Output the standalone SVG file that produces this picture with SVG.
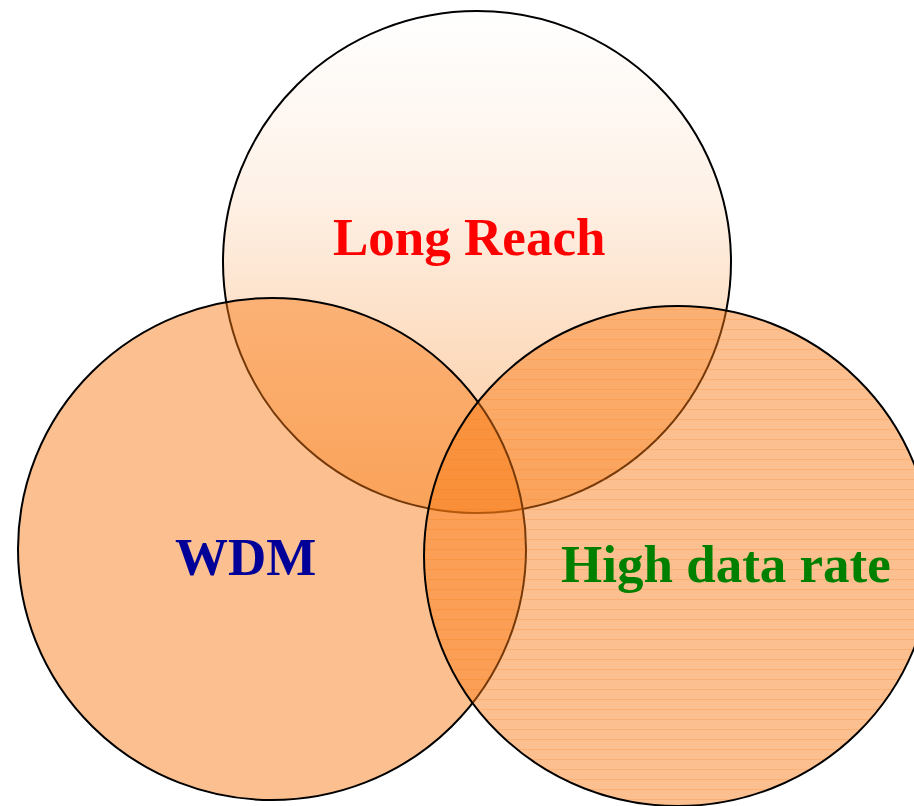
<svg xmlns="http://www.w3.org/2000/svg" width="914" height="806" viewBox="0 0 914 806">
  <style>
    .ring { stroke: #000000; stroke-width: 2; }
    .orange { fill: #F97A14; fill-opacity: 0.47; }
    .lbl { font-family: "Liberation Serif", "Times New Roman", serif; font-weight: bold; font-size: 53px; }
  </style>
  <defs>
    <linearGradient id="gTop" gradientUnits="userSpaceOnUse" x1="0" y1="11" x2="0" y2="512">
      <stop offset="0" stop-color="#FFFFFF"/>
      <stop offset="0.35" stop-color="#FEF2E8"/>
      <stop offset="1" stop-color="#FCC799"/>
    </linearGradient>
    <pattern id="pLines" patternUnits="userSpaceOnUse" width="10" height="10">
      <rect x="0" y="9" width="10" height="1" fill="#F77000" fill-opacity="0.18"/>
    </pattern>
  </defs>

  <g id="long-reach">
    <ellipse class="ring" cx="477" cy="262" rx="254" ry="251" fill="url(#gTop)"/>
  </g>
  <g id="wdm">
    <ellipse class="ring orange" cx="272" cy="549" rx="254" ry="251"/>
  </g>
  <g id="high-data-rate">
    <ellipse class="orange" cx="678" cy="556" rx="254" ry="250"/>
    <ellipse class="ring" cx="678" cy="556" rx="254" ry="250" fill="url(#pLines)"/>
  </g>

  <g id="connectors"></g>

  <g id="labels">
    <text class="lbl" x="333" y="255" fill="#FF0000">Long Reach</text>
    <text class="lbl" x="175" y="575" fill="#000099">WDM</text>
    <text class="lbl" x="561" y="582" fill="#008000">High data rate</text>
  </g>
</svg>
